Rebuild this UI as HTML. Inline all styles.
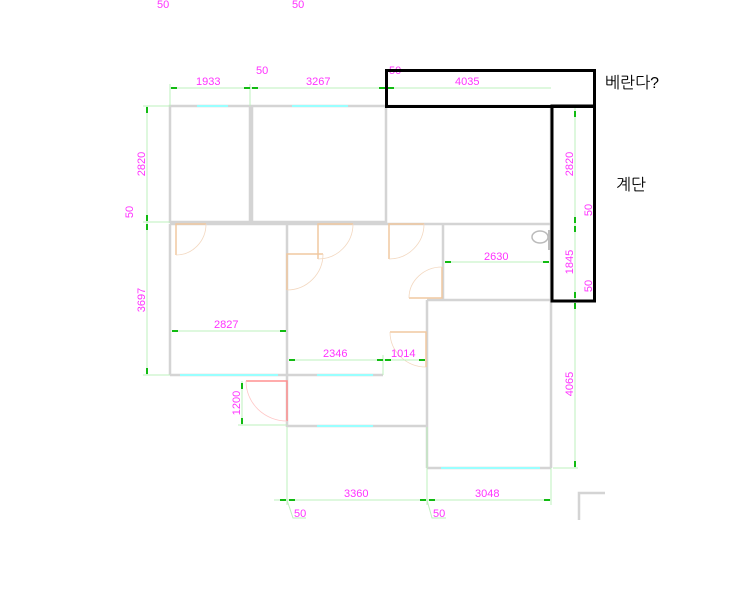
<!DOCTYPE html>
<html><head><meta charset="utf-8"><style>
html,body{margin:0;padding:0;background:#fff;}
svg{display:block;}
.w{stroke:#d4d4d4;stroke-width:2.5;fill:none;}
.d{stroke:#bdf0bd;stroke-width:1;fill:none;}
.a{fill:#11bb11;}
.t{font-family:"Liberation Sans",sans-serif;font-size:11px;fill:#ff33ff;}
.dr{stroke:#f0c8a0;stroke-width:1.5;fill:none;}
.arc{stroke:#f3d8c0;stroke-width:0.8;fill:none;}
.win{stroke:#9ff;stroke-width:2;}
.k{font-family:"Liberation Sans","NanumGothic","Noto Sans CJK KR",sans-serif;font-size:16px;fill:#000;}
</style></head><body>
<svg width="750" height="595" viewBox="0 0 750 595" xmlns="http://www.w3.org/2000/svg">
<!-- top stray 50s -->
<text class="t" x="157" y="8">50</text><text class="t" x="292" y="8">50</text>

<!-- walls -->
<g class="w">
<rect x="170" y="106" width="80" height="116"/>
<rect x="252" y="106" width="134" height="116"/>
<line x1="386" y1="106" x2="551" y2="106"/>
<line x1="170" y1="224" x2="551" y2="224"/>
<line x1="170" y1="224" x2="170" y2="375"/>
<line x1="170" y1="375" x2="383" y2="375"/>
<line x1="287" y1="224" x2="287" y2="427"/>
<line x1="443" y1="224" x2="443" y2="300"/>
<line x1="551" y1="106" x2="551" y2="468"/>
<line x1="427" y1="300" x2="551" y2="300"/>
<line x1="427" y1="300" x2="427" y2="468"/>
<line x1="427" y1="468" x2="551" y2="468"/>
<line x1="287" y1="426" x2="427" y2="426"/>
<polyline points="579,520 579,493 605,493"/>
</g>
<!-- windows -->
<g class="win">
<line x1="197" y1="106" x2="228" y2="106"/>
<line x1="292" y1="106" x2="348" y2="106"/>
<line x1="180" y1="375" x2="278" y2="375"/>
<line x1="317" y1="375" x2="373" y2="375"/>
<line x1="317" y1="426" x2="373" y2="426"/>
<line x1="441" y1="468" x2="540" y2="468"/>
</g>

<!-- doors -->
<g>
<path class="dr" d="M206,224 H176 V255"/><path class="arc" d="M206,224 A30,31 0 0 1 176,255"/>
<path class="dr" d="M353,224 H318 V259"/><path class="arc" d="M353,224 A35,35 0 0 1 318,259"/>
<path class="dr" d="M424,224 H389 V259"/><path class="arc" d="M424,224 A35,35 0 0 1 389,259"/>
<path class="dr" d="M287,290 V254 H323"/><path class="arc" d="M323,254 A36,36 0 0 1 287,290"/>
<path class="dr" d="M442,267 V298 H409"/><path class="arc" d="M442,267 A33,31 0 0 0 409,298"/>
<path class="dr" d="M390,332 H426 V367"/><path class="arc" d="M390,332 A36,35 0 0 0 426,367"/>
<path d="M246,381 H287 V421" stroke="#ff9090" stroke-width="1.5" fill="none"/><path d="M246,381 A41,40 0 0 0 287,421" stroke="#ffc8c8" stroke-width="0.8" fill="none"/>
</g>
<!-- toilet -->
<ellipse cx="540" cy="237" rx="8" ry="6" fill="none" stroke="#bbb" stroke-width="1.5"/>
<line x1="549" y1="230" x2="549" y2="250" stroke="#bbb" stroke-width="2"/>

<!-- dimension lines -->
<g class="d">
<line x1="170" y1="88" x2="551" y2="88"/>
<line x1="170" y1="84" x2="170" y2="106"/><line x1="250" y1="84" x2="250" y2="106"/><line x1="386" y1="84" x2="386" y2="106"/>
<line x1="147" y1="106" x2="147" y2="375"/><line x1="143" y1="106" x2="170" y2="106"/><line x1="143" y1="222" x2="170" y2="222"/><line x1="143" y1="375" x2="170" y2="375"/>
<line x1="172" y1="331" x2="286" y2="331"/>
<line x1="289" y1="360" x2="425" y2="360"/><line x1="383" y1="355" x2="383" y2="375"/>
<line x1="445" y1="262" x2="549" y2="262"/>
<line x1="575" y1="106" x2="575" y2="468"/><line x1="553" y1="468" x2="578" y2="468"/>
<line x1="242" y1="381" x2="242" y2="425"/><line x1="238" y1="425" x2="287" y2="425"/>
<line x1="274" y1="500" x2="551" y2="500"/>
<line x1="287" y1="427" x2="287" y2="505"/><line x1="427" y1="427" x2="427" y2="505"/><line x1="551" y1="468" x2="551" y2="505"/>
<polyline points="287,500 293,518 306,518"/><polyline points="427,500 432,518 446,518"/>
</g>
<g class="a">
<rect x="171" y="87" width="6" height="2"/><rect x="244" y="87" width="6" height="2"/><rect x="252" y="87" width="6" height="2"/><rect x="379" y="87" width="6" height="2"/><rect x="388" y="87" width="6" height="2"/>
<rect x="146" y="107" width="2" height="6"/><rect x="146" y="215" width="2" height="6"/><rect x="146" y="224" width="2" height="6"/><rect x="146" y="368" width="2" height="6"/>
<rect x="172" y="330" width="6" height="2"/><rect x="280" y="330" width="6" height="2"/>
<rect x="289" y="359" width="6" height="2"/><rect x="377" y="359" width="6" height="2"/><rect x="385" y="359" width="6" height="2"/><rect x="419" y="359" width="6" height="2"/>
<rect x="445" y="261" width="6" height="2"/><rect x="543" y="261" width="6" height="2"/>
<rect x="574" y="111" width="2" height="6"/><rect x="574" y="217" width="2" height="6"/><rect x="574" y="226" width="2" height="6"/><rect x="574" y="292" width="2" height="6"/><rect x="574" y="303" width="2" height="6"/><rect x="574" y="461" width="2" height="6"/>
<rect x="241" y="383" width="2" height="6"/><rect x="241" y="418" width="2" height="6"/>
<rect x="280" y="499" width="6" height="2"/><rect x="289" y="499" width="6" height="2"/><rect x="420" y="499" width="6" height="2"/><rect x="429" y="499" width="6" height="2"/><rect x="544" y="499" width="6" height="2"/>
</g>

<!-- dimension texts -->
<text class="t" x="196" y="85">1933</text>
<text class="t" x="256" y="74">50</text>
<text class="t" x="306" y="85">3267</text>
<text class="t" x="389" y="74">50</text>
<text class="t" x="455" y="85">4035</text>
<text class="t" x="214" y="328">2827</text>
<text class="t" x="323" y="357">2346</text>
<text class="t" x="391" y="357">1014</text>
<text class="t" x="484" y="260">2630</text>
<text class="t" x="344" y="497">3360</text>
<text class="t" x="475" y="497">3048</text>
<text class="t" x="294" y="517">50</text>
<text class="t" x="433" y="517">50</text>
<text class="t" transform="translate(145,164) rotate(-90)" text-anchor="middle">2820</text>
<text class="t" transform="translate(133,212) rotate(-90)" text-anchor="middle">50</text>
<text class="t" transform="translate(145,300) rotate(-90)" text-anchor="middle">3697</text>
<text class="t" transform="translate(240,403) rotate(-90)" text-anchor="middle">1200</text>
<text class="t" transform="translate(573,164) rotate(-90)" text-anchor="middle">2820</text>
<text class="t" transform="translate(592,210) rotate(-90)" text-anchor="middle">50</text>
<text class="t" transform="translate(573,262) rotate(-90)" text-anchor="middle">1845</text>
<text class="t" transform="translate(592,286) rotate(-90)" text-anchor="middle">50</text>
<text class="t" transform="translate(573,384) rotate(-90)" text-anchor="middle">4065</text>

<!-- black boxes -->
<rect x="386.5" y="70.5" width="208" height="36" fill="none" stroke="#000" stroke-width="3"/>
<rect x="552" y="106" width="42.5" height="195" fill="none" stroke="#000" stroke-width="3"/>
<text class="k" x="605" y="88">베란다?</text>
<text class="k" x="616" y="190">계단</text>
</svg>
</body></html>
